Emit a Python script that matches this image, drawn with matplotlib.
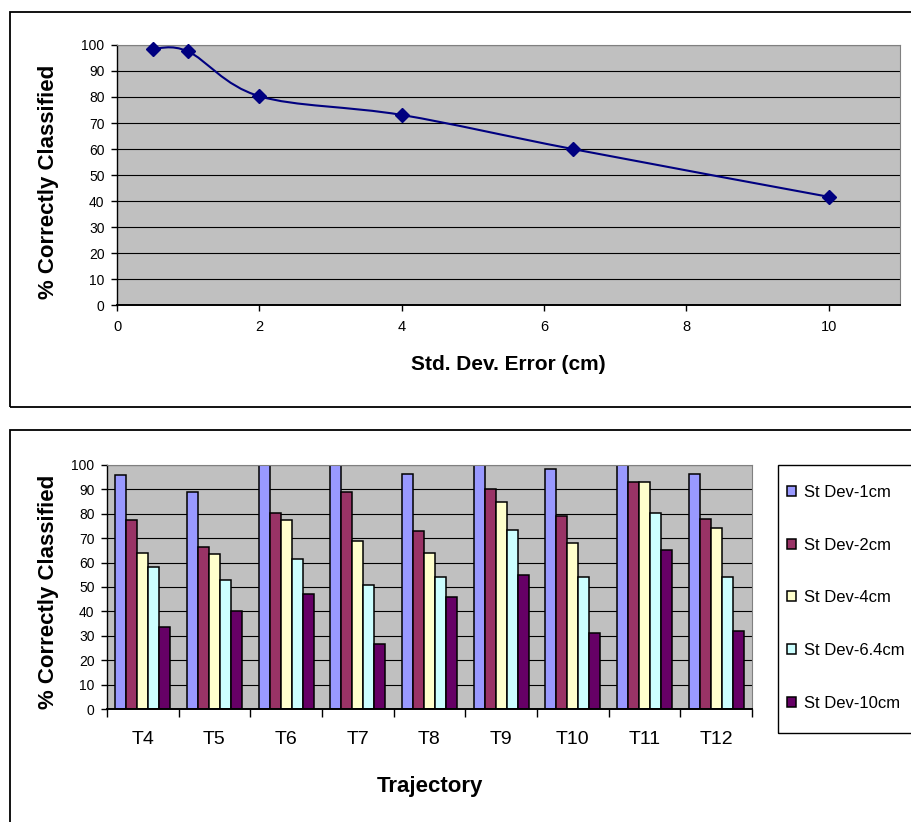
import matplotlib.pyplot as plt
from matplotlib.patches import Rectangle
from matplotlib.path import Path
from matplotlib.patches import PathPatch
import numpy as np

plt.rcParams['font.family'] = ['Liberation Sans', 'DejaVu Sans']

# Top chart: classification rate vs. std dev of the error
std_dev = [0.5, 1, 2, 4, 6.4, 10]
pct_correct = [98.5, 97.5, 80.3, 73.1, 60, 41.6]

# Bottom chart: per trajectory
trajectories = ['T4', 'T5', 'T6', 'T7', 'T8', 'T9', 'T10', 'T11', 'T12']
sd_1cm = [96, 89, 100, 100, 96.5, 100, 98.5, 100, 96.5]
sd_2cm = [77.5, 66.5, 80.5, 89, 73, 90, 79, 93, 78]
sd_4cm = [64, 63.5, 77.5, 69, 64, 85, 68, 93, 74]
sd_64cm = [58, 53, 61.5, 51, 54, 73.5, 54, 80.5, 54]
sd_10cm = [33.5, 40, 47, 26.5, 46, 55, 31, 65, 32]
series_names = ['St Dev-1cm', 'St Dev-2cm', 'St Dev-4cm', 'St Dev-6.4cm', 'St Dev-10cm']
series_colors = ['#9999FF', '#993366', '#FFFFCC', '#CCFFFF', '#660066']

W, H = 912, 822
fig = plt.figure(figsize=(W / 100, H / 100), dpi=100)


def fx(px):
    return px / W


def fy(py):
    return 1 - py / H


def style_axes(ax):
    ax.set_facecolor('#C0C0C0')
    ax.set_axisbelow(True)
    ax.yaxis.grid(True, color='black', linewidth=0.8)
    ax.spines['top'].set_color('#808080')
    ax.spines['right'].set_color('#808080')
    ax.spines['left'].set_linewidth(1.0)
    ax.spines['bottom'].set_linewidth(1.4)
    ax.set_ylim(0, 100)
    ax.set_yticks(range(0, 101, 10))
    ax.tick_params(axis='y', direction='out', length=4, width=1, labelsize=10, pad=5)


# outer chart borders (they run past the right edge like the original)
for top, bottom in [(12, 407), (430, 840)]:
    fig.add_artist(Rectangle((fx(10), fy(bottom)), fx(930 - 10), (bottom - top) / H,
                             transform=fig.transFigure, fill=False, ec='black', lw=1.3))

# ---- top chart ----
ax1 = fig.add_axes([fx(117), fy(305), fx(900 - 117), (305 - 45) / H])
style_axes(ax1)
ax1.set_xlim(0, 11)
ax1.set_xticks(range(0, 11, 2))
ax1.tick_params(axis='x', direction='out', length=4, width=1, labelsize=10.5, pad=7)

# Excel style smoothed line -> cubic bezier segments through the points
pts = np.column_stack([std_dev, pct_correct])
verts = [pts[0]]
codes = [Path.MOVETO]
for i in range(len(pts) - 1):
    p0 = pts[max(i - 1, 0)]
    p1 = pts[i]
    p2 = pts[i + 1]
    p3 = pts[min(i + 2, len(pts) - 1)]
    verts += [p1 + (p2 - p0) / 6, p2 - (p3 - p1) / 6, p2]
    codes += [Path.CURVE4] * 3
ax1.add_patch(PathPatch(Path(verts, codes), fill=False, ec='#000080', lw=1.5, zorder=3))
ax1.plot(std_dev, pct_correct, linestyle='none', marker='D', markersize=7,
         color='#000080', zorder=4, clip_on=False)

fig.text(fx(49), fy(182), '% Correctly Classified', rotation=90, ha='center', va='center',
         fontsize=16, fontweight='bold')
fig.text(fx(508.5), fy(364), 'Std. Dev. Error (cm)', ha='center', va='center',
         fontsize=15, fontweight='bold')

# ---- bottom chart ----
ax2 = fig.add_axes([fx(107), fy(709), fx(752 - 107), (709 - 465) / H])
style_axes(ax2)
x = np.arange(len(trajectories))
bar_w = 1 / 6.5  # excel gap width 150%
all_series = [sd_1cm, sd_2cm, sd_4cm, sd_64cm, sd_10cm]
for k, vals in enumerate(all_series):
    ax2.bar(x + (k - 2) * bar_w, vals, width=bar_w, color=series_colors[k],
            edgecolor='black', linewidth=1.1, label=series_names[k], zorder=2)
ax2.set_xlim(-0.5, len(trajectories) - 0.5)
ax2.set_xticks(x)
ax2.set_xticklabels(trajectories)
ax2.set_xticks(np.arange(-0.5, len(trajectories)), minor=True)
ax2.tick_params(axis='x', which='major', length=0, labelsize=14, pad=16)
ax2.tick_params(axis='x', which='minor', direction='out', length=6, width=1)

fig.text(fx(49), fy(592), '% Correctly Classified', rotation=90, ha='center', va='center',
         fontsize=16, fontweight='bold')
fig.text(fx(429.5), fy(786), 'Trajectory', ha='center', va='center',
         fontsize=16, fontweight='bold')

# legend box runs off the right edge, so draw the frame separately
fig.add_artist(Rectangle((fx(778), fy(733)), fx(930 - 778), (733 - 465) / H,
                         transform=fig.transFigure, fill=False, ec='black', lw=1.0))
leg = ax2.legend(loc='upper left', bbox_to_anchor=(fx(782), fy(480)), bbox_transform=fig.transFigure,
                 borderaxespad=0, fontsize=12, frameon=False,
                 handlelength=0.55, handleheight=0.55, handletextpad=0.5,
                 labelspacing=2.26, borderpad=0.3)

fig.savefig('out.png', dpi=100)
